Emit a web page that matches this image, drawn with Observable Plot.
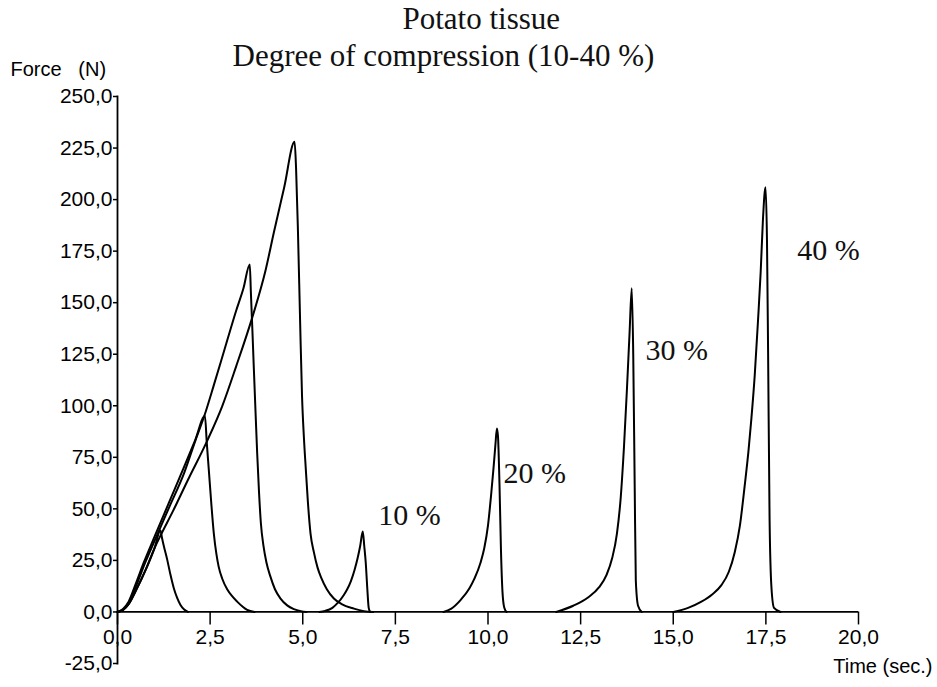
<!DOCTYPE html>
<html>
<head>
<meta charset="utf-8">
<script src="https://cdn.jsdelivr.net/npm/d3@7"></script>
<script src="https://cdn.jsdelivr.net/npm/@observablehq/plot@0.6"></script>
<style>
html, body { margin: 0; padding: 0; background: #fff; }
#chart svg text { white-space: pre; }
</style>
</head>
<body>
<div id="chart"></div>
<script>
// ---- Text ----
const titleLine1 = "Potato tissue";
const titleLine2 = "Degree of compression (10-40 %)";
const yAxisLabel = "Force   (N)";
const xAxisLabel = "Time (sec.)";

// ---- Ticks ----
const xTicks = [0, 2.5, 5, 7.5, 10, 12.5, 15, 17.5, 20];
const yTicks = [-25, 0, 25, 50, 75, 100, 125, 150, 175, 200, 225, 250];
const xDomain = [0, 20];
const yDomain = [-25, 250];

// ---- Curve labels ----
const labelText = ["10 %", "20 %", "30 %", "40 %"];
const labelTime = [7.04, 10.42, 14.25, 18.35];
const labelForce = [42.0, 62.4, 122.2, 170.5];

// ---- First compression runs (loading + unloading) ----
const run10Time  = [0, 0.15, 0.3, 0.5, 0.75, 1.0, 1.16, 1.2, 1.25, 1.34, 1.43, 1.52, 1.61, 1.70, 1.80, 1.9];
const run10Force = [0, 1, 3.8, 10.5, 20, 31, 39.5, 36, 32, 25.5, 18, 11.5, 6.8, 3.4, 1.2, 0];

const run20Time  = [0, 0.15, 0.3, 0.5, 0.71, 1.0, 1.4, 1.8, 2.1, 2.36, 2.41, 2.46, 2.53, 2.6, 2.67, 2.73, 2.83, 2.96, 3.1, 3.23, 3.38, 3.5, 3.7];
const run20Force = [0, 1.5, 5, 14, 24, 36.5, 53.5, 70.5, 83.5, 95, 82, 70, 53, 38, 28, 22, 16, 11, 7.5, 5, 2.5, 1, 0];

const run30Time  = [0, 0.15, 0.3, 0.5, 0.75, 1.0, 1.4, 1.8, 2.1, 2.36, 2.6, 2.9, 3.2, 3.4, 3.57, 3.60, 3.64, 3.68, 3.73, 3.77, 3.82, 3.87, 3.94, 4.02, 4.13, 4.25, 4.4, 4.58, 4.76, 4.95, 5.1];
const run30Force = [0, 1.2, 4.2, 12.5, 24, 34.5, 51, 67.5, 83, 96, 110, 128, 146, 157, 168.5, 155, 137, 118, 95, 77, 58, 43, 32, 24, 17, 11, 6.5, 3.2, 1.4, 0.4, 0];

const run40Time  = [0, 0.15, 0.3, 0.5, 0.75, 1.0, 1.16, 1.5, 1.9, 2.42, 2.83, 3.2, 3.64, 4.0, 4.22, 4.5, 4.78, 4.82, 4.87, 4.93, 4.98, 5.03, 5.08, 5.14, 5.21, 5.3, 5.4, 5.5, 5.65, 5.84, 6.05, 6.38, 6.65, 6.9];
const run40Force = [0, 1, 3.8, 10.5, 20, 31, 37, 49, 64, 83, 100, 119, 143, 166, 184, 206, 228, 215, 185, 140, 105, 85, 70, 53, 38, 29, 21.5, 16.5, 11, 6.5, 3.8, 1.6, 0.4, 0];

// ---- Second compression runs ----
const rep10Time  = [5.45, 5.6, 5.8, 5.95, 6.1, 6.2, 6.3, 6.4, 6.48, 6.55, 6.62, 6.66, 6.70, 6.74, 6.78, 6.82];
const rep10Force = [0, 0.5, 2, 4.5, 8, 11, 15, 20.5, 26, 32, 39, 32, 24, 12, 2, 0];

const rep20Time  = [8.8, 9.0, 9.27, 9.5, 9.63, 9.8, 9.9, 10.0, 10.08, 10.15, 10.2, 10.24, 10.27, 10.31, 10.35, 10.39, 10.44, 10.5];
const rep20Force = [0, 1.5, 6, 11.5, 16, 24, 31, 42, 56, 70, 81, 89, 85, 62, 30, 10, 2, 0];

const rep30Time  = [11.84, 12.3, 12.7, 13.0, 13.2, 13.35, 13.48, 13.58, 13.67, 13.75, 13.82, 13.88, 13.92, 13.96, 13.99, 14.05, 14.15];
const rep30Force = [0, 3, 7, 12, 18, 26, 38, 55, 80, 108, 135, 157, 125, 60, 15, 3, 0];

const rep40Time  = [15.0, 15.4, 15.76, 16.05, 16.3, 16.5, 16.66, 16.8, 16.93, 17.03, 17.11, 17.2, 17.29, 17.36, 17.42, 17.49, 17.53, 17.56, 17.6, 17.65, 17.72, 17.9];
const rep40Force = [0, 2, 5, 8.5, 13, 19.5, 29, 42, 61.5, 78, 94, 115, 142, 165, 190, 206, 180, 126, 45, 12, 2, 0];

// ---- Build table for Plot ----
const seriesList = [
  ["run10", run10Time, run10Force],
  ["run20", run20Time, run20Force],
  ["run30", run30Time, run30Force],
  ["run40", run40Time, run40Force],
  ["rep10", rep10Time, rep10Force],
  ["rep20", rep20Time, rep20Force],
  ["rep30", rep30Time, rep30Force],
  ["rep40", rep40Time, rep40Force]
];
const rows = seriesList.flatMap(([name, ts, fs]) => ts.map((t, i) => ({series: name, t, f: fs[i]})));
const labels = labelText.map((text, i) => ({text, t: labelTime[i], f: labelForce[i]}));

const fmt = d => d.toFixed(1).replace(".", ",");

const W = 937, H = 687;
const mTop = 96, mBottom = 24, mLeft = 117, mRight = 79;
const innerH = H - mTop - mBottom;
const zeroShift = -innerH * (0 - yDomain[0]) / (yDomain[1] - yDomain[0]);

const sans = "'Liberation Sans', Arial, sans-serif";
const serif = "'Liberation Serif', 'Times New Roman', serif";

const chart = Plot.plot({
  width: W,
  height: H,
  marginTop: mTop,
  marginBottom: mBottom,
  marginLeft: mLeft,
  marginRight: mRight,
  style: {fontFamily: sans, fontSize: "21px", color: "#000", background: "#fff", overflow: "visible"},
  x: {domain: xDomain},
  y: {domain: yDomain},
  marks: [
    Plot.axisY({ticks: yTicks, tickSize: 4, tickPadding: 1, tickFormat: fmt, label: null, fontSize: 21, strokeWidth: 1.5}),
    Plot.frame({anchor: "left", strokeWidth: 1.8}),
    Plot.axisX({ticks: xTicks, anchor: "bottom", tickSize: 13, tickPadding: 4, tickFormat: fmt, label: null, fontSize: 21, strokeWidth: 1.5, dy: zeroShift}),
    Plot.ruleY([0], {strokeWidth: 1.8}),
    Plot.line(rows, {x: "t", y: "f", z: "series", stroke: "#000", strokeWidth: 2, curve: "monotone-x"}),
    Plot.text(labels, {x: "t", y: "f", text: "text", textAnchor: "start", lineAnchor: "bottom", fontFamily: serif, fontSize: 30, fill: "#111"}),
    Plot.text([titleLine1], {frameAnchor: "top-left", text: d => d, textAnchor: "start", lineAnchor: "bottom", dx: 285, dy: -68, fontFamily: serif, fontSize: 31, fill: "#111"}),
    Plot.text([titleLine2], {frameAnchor: "top-left", text: d => d, textAnchor: "start", lineAnchor: "bottom", dx: 115, dy: -31, fontFamily: serif, fontSize: 31, fill: "#111"}),
    Plot.text([yAxisLabel], {frameAnchor: "top-left", text: d => d, textAnchor: "start", lineAnchor: "bottom", dx: -107, dy: -21, fontSize: 20}),
    Plot.text([xAxisLabel], {frameAnchor: "bottom-right", text: d => d, textAnchor: "end", lineAnchor: "bottom", dx: 74, dy: 9, fontSize: 20})
  ]
});
document.getElementById("chart").appendChild(chart);
</script>
</body>
</html>
